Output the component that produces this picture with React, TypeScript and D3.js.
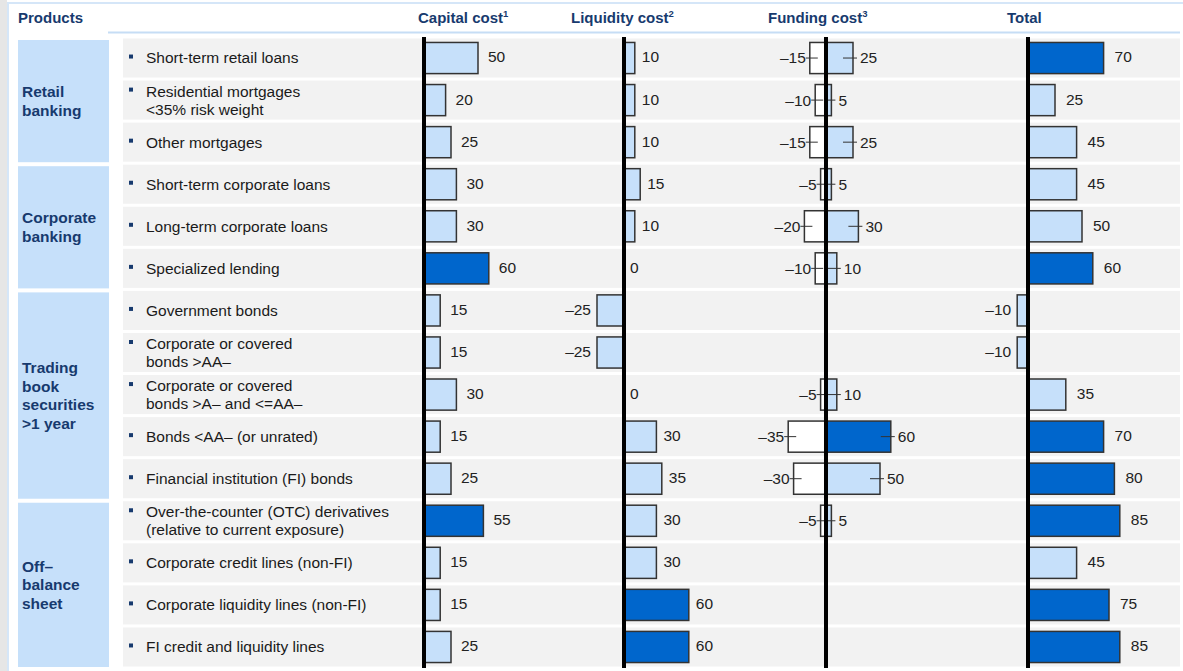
import React from "react";
import * as d3 from "d3";

// products, one row each
const products = [
  "Short-term retail loans",
  "Residential mortgages <35% risk weight",
  "Other mortgages",
  "Short-term corporate loans",
  "Long-term corporate loans",
  "Specialized lending",
  "Government bonds",
  "Corporate or covered bonds >AA–",
  "Corporate or covered bonds >A– and <=AA–",
  "Bonds <AA– (or unrated)",
  "Financial institution (FI) bonds",
  "Over-the-counter (OTC) derivatives (relative to current exposure)",
  "Corporate credit lines (non-FI)",
  "Corporate liquidity lines (non-FI)",
  "FI credit and liquidity lines",
];

const productLines = [
  ["Short-term retail loans"],
  ["Residential mortgages", "<35% risk weight"],
  ["Other mortgages"],
  ["Short-term corporate loans"],
  ["Long-term corporate loans"],
  ["Specialized lending"],
  ["Government bonds"],
  ["Corporate or covered", "bonds >AA–"],
  ["Corporate or covered", "bonds >A– and <=AA–"],
  ["Bonds <AA– (or unrated)"],
  ["Financial institution (FI) bonds"],
  ["Over-the-counter (OTC) derivatives", "(relative to current exposure)"],
  ["Corporate credit lines (non-FI)"],
  ["Corporate liquidity lines (non-FI)"],
  ["FI credit and liquidity lines"],
];

const groupLabels = [
  ["Retail", "banking"],
  ["Corporate", "banking"],
  ["Trading", "book", "securities", ">1 year"],
  ["Off–", "balance", "sheet"],
];
const groupSizes = [3, 3, 5, 4];

const capitalCost = [50, 20, 25, 30, 30, 60, 15, 15, 30, 15, 25, 55, 15, 15, 25];
const liquidityCost = [10, 10, 10, 15, 10, 0, -25, -25, 0, 30, 35, 30, 30, 60, 60];
const fundingNeg = [-15, -10, -15, -5, -20, -10, null, null, -5, -35, -30, -5, null, null, null];
const fundingPos = [25, 5, 25, 5, 30, 10, null, null, 10, 60, 50, 5, null, null, null];
const totalCost = [70, 25, 45, 45, 50, 60, -10, -10, 35, 70, 80, 85, 45, 75, 85];

// highlighted (dark) bars per column, by row index
const capitalDark = [5, 11];
const liquidityDark = [13, 14];
const fundingDark = [9];
const totalDark = [0, 5, 9, 10, 11, 13, 14];

const W = 1183;
const H = 671;
const navy = "#173a6e";
const light = "#c6e0fa";
const dark = "#0066cc";
const edge = "#333";
const fs = 15.5;

const App: React.FC = () => {
  const y = d3.scaleBand<number>().domain(d3.range(products.length)).range([37, 668]);
  const len = d3.scaleLinear().domain([0, 100]).range([0, 108]);
  const bh = y.bandwidth() * 0.74;
  const zero = { capital: 424, liquidity: 624, funding: 826, total: 1028 };

  const cy = (i: number) => (y(i) as number) + y.bandwidth() / 2;

  const simpleBars = (
    vals: number[],
    x0: number,
    darkRows: number[],
    gap: number,
    key: string
  ) =>
    vals.map((v, i) => {
      const x = v >= 0 ? x0 : x0 - len(-v);
      const w = len(Math.abs(v));
      const end = v >= 0 ? x0 + w : x0 - w;
      return (
        <g key={key + i}>
          {v !== 0 && (
            <rect
              x={x}
              y={cy(i) - bh / 2}
              width={w}
              height={bh}
              fill={darkRows.includes(i) ? dark : light}
              stroke={edge}
              strokeWidth={1.5}
            />
          )}
          <text
            x={v === 0 ? x0 + 6 : v > 0 ? end + gap : end - 6}
            y={cy(i) - 1}
            dy="0.35em"
            textAnchor={v < 0 ? "end" : "start"}
            fontSize={fs}
            fill="#222"
          >
            {v < 0 ? "–" + Math.abs(v) : v}
          </text>
        </g>
      );
    });

  let start = 0;
  const groups = groupSizes.map((n, g) => {
    const top = (y(start) as number) + 3;
    const bottom = (y(start + n - 1) as number) + y.bandwidth() - 1;
    start += n;
    const lines = groupLabels[g];
    const mid = (top + bottom) / 2;
    return (
      <g key={"g" + g}>
        <rect x={18} y={top} width={91} height={bottom - top} fill={light} />
        {lines.map((l, k) => (
          <text
            key={k}
            x={22}
            y={mid + (k - (lines.length - 1) / 2) * 18.7}
            dy="0.35em"
            fontSize={fs}
            fontWeight="bold"
            fill={navy}
          >
            {l}
          </text>
        ))}
      </g>
    );
  });

  return (
    <>
      <style>{"body{margin:0}"}</style>
      <svg
        width={W}
        height={H}
        viewBox={`0 0 ${W} ${H}`}
        style={{ display: "block", fontFamily: "Liberation Sans, Arial, sans-serif" }}
      >
        <rect width={W} height={H} fill="#fff" />
        <rect x={0} y={0} width={7} height={H} fill="#e6e6e6" />
        <line x1={8} x2={8} y1={2} y2={H} stroke="#d5e6f8" strokeWidth={2} />
        <line x1={8} x2={W} y1={3} y2={3} stroke="#d5e6f8" strokeWidth={2} />

        {/* header */}
        <text x={18} y={23} fontSize={15} fontWeight="bold" fill={navy}>
          Products
        </text>
        {[
          ["Capital cost", "1", 418],
          ["Liquidity cost", "2", 571],
          ["Funding cost", "3", 768],
          ["Total", "", 1007],
        ].map(([t, s, x]) => (
          <text key={t as string} x={x as number} y={23} fontSize={15} fontWeight="bold" fill={navy}>
            {t}
            {s && (
              <tspan fontSize={9.5} dy={-6}>
                {s}
              </tspan>
            )}
          </text>
        ))}
        <line x1={108} x2={1180} y1={32.5} y2={32.5} stroke="#c6ddf5" strokeWidth={2} />

        {groups}

        {/* row backgrounds and labels */}
        {products.map((p, i) => {
          const lines = productLines[i];
          const first = cy(i) - ((lines.length - 1) * 18) / 2;
          return (
            <g key={"r" + i}>
              <rect x={123} y={(y(i) as number) + 1.5} width={1057} height={y.bandwidth() - 3} fill="#f2f2f2" />
              <rect x={129} y={first - 3.5} width={4} height={4} fill={navy} />
              {lines.map((l, k) => (
                <text key={k} x={146} y={first + k * 18} dy="0.35em" fontSize={fs} fill="#1a1a1a">
                  {l}
                </text>
              ))}
            </g>
          );
        })}

        {simpleBars(capitalCost, zero.capital, capitalDark, 10, "c")}
        {simpleBars(liquidityCost, zero.liquidity, liquidityDark, 7, "l")}
        {simpleBars(totalCost, zero.total, totalDark, 11, "t")}

        {/* funding cost: negative and positive parts */}
        {products.map((p, i) => {
          const n = fundingNeg[i];
          const v = fundingPos[i];
          if (n === null || v === null) return null;
          const x0 = zero.funding;
          const nEnd = x0 - len(-n);
          const pEnd = x0 + len(v);
          return (
            <g key={"f" + i}>
              <rect x={nEnd} y={cy(i) - bh / 2} width={len(-n)} height={bh} fill="#fff" stroke={edge} strokeWidth={1.5} />
              <rect
                x={x0}
                y={cy(i) - bh / 2}
                width={len(v)}
                height={bh}
                fill={fundingDark.includes(i) ? dark : light}
                stroke={edge}
                strokeWidth={1.5}
              />
              <line x1={nEnd - 4} x2={Math.min(nEnd + 8, x0 - 2)} y1={cy(i)} y2={cy(i)} stroke={edge} strokeWidth={1} />
              <line x1={Math.max(pEnd - 10, x0 + 2)} x2={pEnd + 4} y1={cy(i)} y2={cy(i)} stroke={edge} strokeWidth={1} />
              <text x={nEnd - 4} y={cy(i)} dy="0.35em" textAnchor="end" fontSize={fs} fill="#222">
                {"–" + Math.abs(n)}
              </text>
              <text x={pEnd + 7} y={cy(i)} dy="0.35em" fontSize={fs} fill="#222">
                {v}
              </text>
            </g>
          );
        })}

        {/* zero lines */}
        {Object.values(zero).map((x) => (
          <line key={"z" + x} x1={x} x2={x} y1={37} y2={668} stroke="#000" strokeWidth={4} />
        ))}
      </svg>
    </>
  );
};

export default App;
